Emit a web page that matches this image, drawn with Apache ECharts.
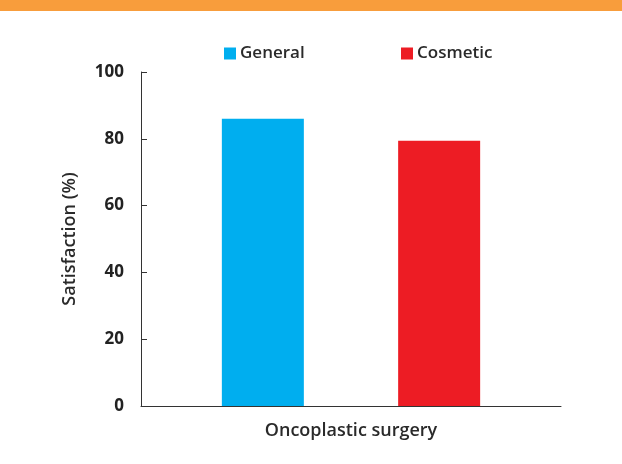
<!DOCTYPE html>
<html><head><meta charset="utf-8">
<script src="https://cdn.jsdelivr.net/npm/echarts@6/dist/echarts.min.js"></script>
<style>html,body{margin:0;padding:0;background:#fff}#c{width:622px;height:464px}</style>
</head><body><div id="c"></div>
<script>
var categories = ['Oncoplastic surgery'];
var seriesNames = ['General', 'Cosmetic'];
var generalValues = [86];
var cosmeticValues = [79.4];
var yTicks = [0, 20, 40, 60, 80, 100];

var font = 'Open Sans';
var chart = echarts.init(document.getElementById('c'));
chart.setOption({
  animation: false,
  graphic: [{type: 'rect', left: 0, top: 0, shape: {width: 622, height: 11}, style: {fill: '#F89D3C'}, silent: true}],
  legend: [
    {data: [seriesNames[0]], left: 219, top: 40, itemWidth: 12, itemHeight: 12, itemGap: 5,
     icon: 'rect', textStyle: {fontFamily: font, fontSize: 17, fontWeight: 600, color: '#2a2a2a', padding: [0,0,0,-1]}},
    {data: [seriesNames[1]], left: 396, top: 40, itemWidth: 12, itemHeight: 12, itemGap: 5,
     icon: 'rect', textStyle: {fontFamily: font, fontSize: 17, fontWeight: 600, color: '#2a2a2a', padding: [0,0,0,-1]}}
  ],
  grid: {left: 141, right: 61, top: 72, bottom: 58, containLabel: false},
  xAxis: {
    type: 'category', data: categories,
    axisLine: {lineStyle: {color: '#333', width: 1}},
    axisTick: {show: false},
    axisLabel: {fontFamily: font, fontSize: 18, fontWeight: 600, color: '#2a2a2a', margin: 16}
  },
  yAxis: {
    type: 'value', min: 0, max: 100, interval: 20,
    name: 'Satisfaction (%)', nameLocation: 'middle', nameGap: 62, nameRotate: 90,
    nameTextStyle: {fontFamily: font, fontSize: 18, fontWeight: 600, color: '#2a2a2a'},
    axisLine: {show: true, lineStyle: {color: '#333', width: 1}},
    axisTick: {show: true, inside: true, length: 6, lineStyle: {color: '#333'}},
    splitLine: {show: false},
    axisLabel: {fontFamily: font, fontSize: 17, fontWeight: 700, color: '#222', margin: 17,
      formatter: function (v) { return yTicks.indexOf(v) >= 0 ? String(v) : ''; }}
  },
  series: [
    {name: seriesNames[0], type: 'bar', data: generalValues, barWidth: 82, barGap: '115%', itemStyle: {color: '#00AEEF'}},
    {name: seriesNames[1], type: 'bar', data: cosmeticValues, barWidth: 82, barGap: '115%', itemStyle: {color: '#ED1C24'}}
  ]
});
</script></body></html>
